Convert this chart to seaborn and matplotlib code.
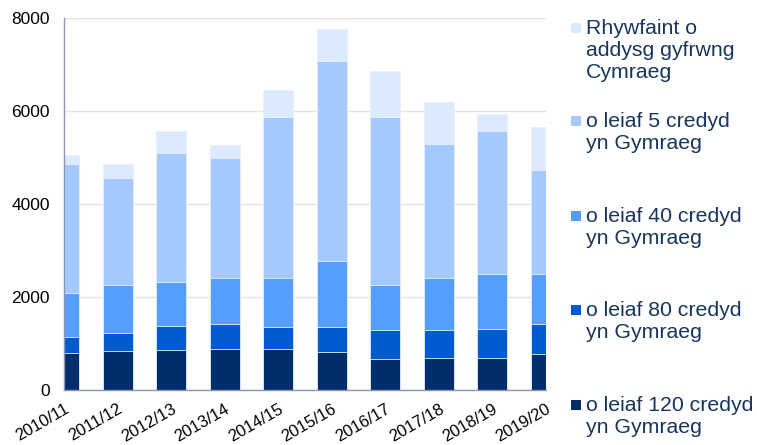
import matplotlib
matplotlib.use("Agg")
import matplotlib.pyplot as plt
import seaborn as sns
import pandas as pd
import numpy as np
from matplotlib.patches import Rectangle

years = ["2010/11", "2011/12", "2012/13", "2013/14", "2014/15",
         "2015/16", "2016/17", "2017/18", "2018/19", "2019/20"]
c120 = [790, 847, 861, 875, 875, 811, 674, 696, 696, 775]
c80 = [358, 387, 517, 538, 488, 552, 625, 596, 624, 638]
c40 = [947, 1026, 954, 1005, 1055, 1421, 961, 1112, 1177, 1084]
c5 = [2762, 2289, 2769, 2569, 3451, 4283, 3609, 2891, 3078, 2239]
rhyw = [201, 301, 460, 272, 574, 704, 997, 897, 366, 911]

labels = ["Rhywfaint o\naddysg gyfrwng\nCymraeg",
          "o leiaf 5 credyd\nyn Gymraeg",
          "o leiaf 40 credyd\nyn Gymraeg",
          "o leiaf 80 credyd\nyn Gymraeg",
          "o leiaf 120 credyd\nyn Gymraeg"]
colors = ["#DCEAFE", "#A3C9FE", "#559EFE", "#005BD0", "#002D6B"]

sns.set_theme(style="white")
plt.rcParams["font.family"] = ["Liberation Sans", "DejaVu Sans"]

fig = plt.figure(figsize=(7.57, 4.45), dpi=100)
ax = fig.add_axes([64 / 757, 55 / 445, (546 - 64) / 757, (390 - 18) / 445])

df = pd.DataFrame({"year": years, "c120": c120, "c80": c80, "c40": c40,
                   "c5": c5, "rhyw": rhyw})
layers = ["c120", "c80", "c40", "c5", "rhyw"]
cum = df[layers].cumsum(axis=1)
# draw from top layer down so lower layers overlay
for col, color in zip(reversed(layers), colors):
    sns.barplot(x=df["year"], y=cum[col], color=color, width=0.56,
                ax=ax, saturation=1, edgecolor="#E8F0FC", linewidth=0.6,
                zorder=3)

ax.set_xlim(0, 9)
ax.set_ylim(0, 8000)
ax.set_yticks([0, 2000, 4000, 6000, 8000])
ax.set_xlabel("")
ax.set_ylabel("")
ax.yaxis.grid(True, color="#E4E4E4", linewidth=1, zorder=0)
ax.set_axisbelow(True)
for s in ["top", "right"]:
    ax.spines[s].set_visible(False)
for s in ["left", "bottom"]:
    ax.spines[s].set_color("#8C96B4")
    ax.spines[s].set_linewidth(1)
    ax.spines[s].set_zorder(5)
ax.tick_params(axis="both", which="both", length=3, color="#8C96B4",
               width=1, labelcolor="#000000")
ax.tick_params(axis="y", pad=7, labelsize=12.5)
ax.tick_params(axis="x", pad=5, labelsize=12)
plt.setp(ax.get_xticklabels(), rotation=30, ha="right",
         rotation_mode="anchor")

# legend drawn manually (markers aligned with first line of each label)
first_line_y = [28, 121, 216, 310, 405]
for lab, color, yc in zip(labels, colors, first_line_y):
    fig.patches.append(Rectangle((571 / 757, 1 - (yc + 5) / 445),
                                 10 / 757, 10 / 445, transform=fig.transFigure,
                                 facecolor=color, edgecolor="none"))
    fig.text(586 / 757, 1 - (yc - 9) / 445, lab, ha="left", va="top",
             fontsize=15.3, color="#17365D", linespacing=1.2)

fig.savefig("out.png", dpi=100)
